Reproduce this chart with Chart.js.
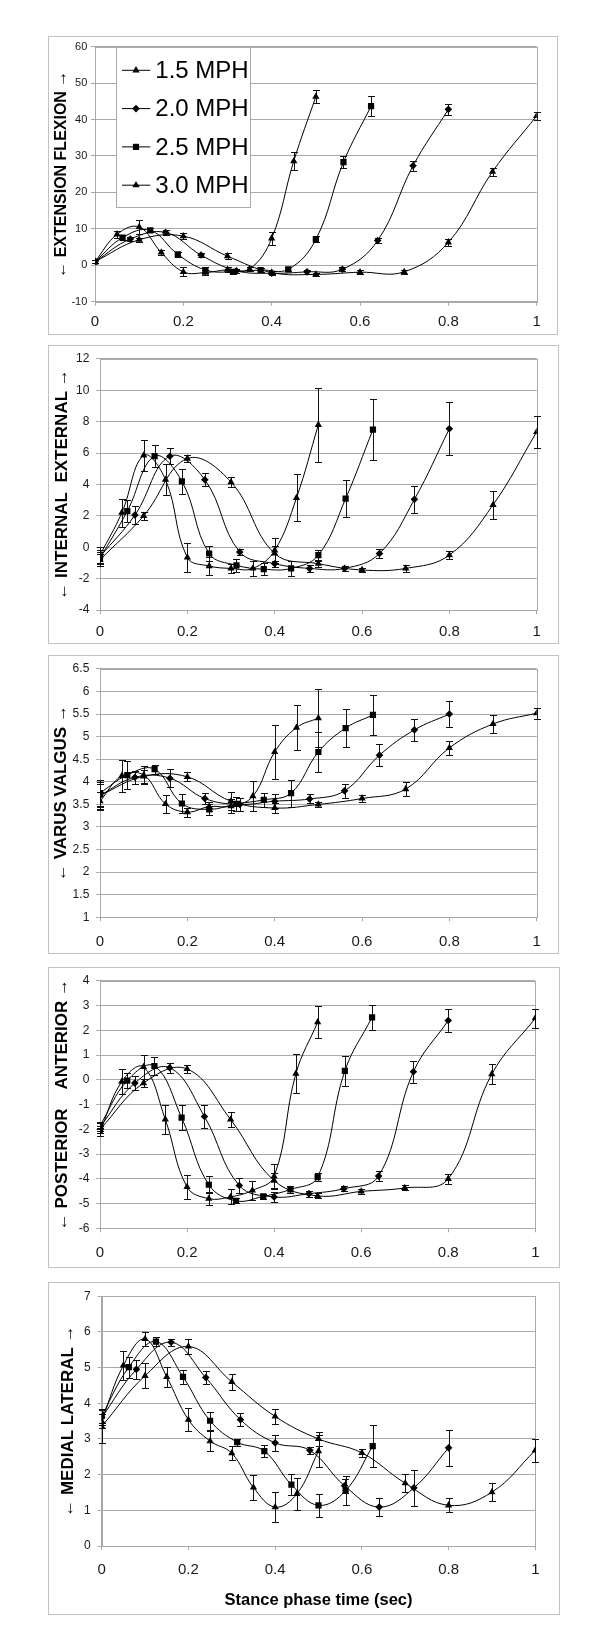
<!DOCTYPE html>
<html><head><meta charset="utf-8">
<script src="https://cdn.jsdelivr.net/npm/chart.js@4.4.0/dist/chart.umd.min.js"></script>
<style>
html,body{margin:0;padding:0;background:#fff;width:600px;height:1650px;overflow:hidden;}
canvas{position:absolute;}
</style></head><body>
<canvas id="c1"></canvas>
<canvas id="c2"></canvas>
<canvas id="c3"></canvas>
<canvas id="c4"></canvas>
<canvas id="c5"></canvas>
<script>
// ---- categories: sample times (sec) of each walking speed ----
const t15 = [0, 0.1, 0.2, 0.3, 0.4, 0.5, 0.6, 0.7, 0.8, 0.9, 1.0];
const t20 = [0, 0.08, 0.16, 0.24, 0.32, 0.40, 0.48, 0.56, 0.64, 0.72, 0.80];
const t25 = [0, 0.0625, 0.125, 0.1875, 0.25, 0.3125, 0.375, 0.4375, 0.5, 0.5625, 0.625];
const t30 = [0, 0.05, 0.1, 0.15, 0.2, 0.25, 0.3, 0.35, 0.4, 0.45, 0.5];
const seriesNames = ['1.5 MPH', '2.0 MPH', '2.5 MPH', '3.0 MPH'];
const xTickLabels = ['0', '0.2', '0.4', '0.6', '0.8', '1'];

// ---- panel 1: extension / flexion ----
const flex15 = [1, 7, 8, 2.5, -2, -2.5, -1.9, -1.8, 6.3, 25.7, 41];
const flex15Err = [0.5, 0.6, 0.8, 0.8, 0.5, 0.5, 0.5, 0.6, 1.0, 1.1, 1.0];
const flex20 = [1, 7.2, 9, 2.8, -1.5, -2.2, -1.8, -1.1, 6.8, 27.3, 42.8];
const flex20Err = [0.5, 0.6, 0.6, 0.6, 0.5, 0.5, 0.5, 0.5, 0.8, 1.3, 1.6];
const flex25 = [1, 7.6, 9.6, 3, -1.3, -1.8, -1.3, -1.1, 7.1, 28.3, 43.7];
const flex25Err = [0.5, 0.6, 0.6, 0.6, 0.8, 0.6, 0.5, 0.5, 0.8, 1.7, 2.75];
const flex30 = [1, 8.5, 10.5, 3.5, -1.8, -2, -1.2, -1, 7.4, 28.6, 46.3];
const flex30Err = [0.5, 1.0, 2.0, 0.8, 1.2, 0.8, 0.6, 0.6, 1.7, 2.5, 1.8];
const flexTicks = ['-10', '0', '10', '20', '30', '40', '50', '60'];

// ---- panel 2: internal / external ----
const int15 = [-0.8, 2.0, 5.65, 4.15, -0.4, -1.05, -1.45, -1.35, -0.5, 2.7, 7.35];
const int15Err = [0.4, 0.25, 0.25, 0.3, 0.5, 0.2, 0.15, 0.2, 0.25, 0.9, 1.0];
const int20 = [-0.6, 2.05, 5.8, 4.3, -0.3, -1.05, -1.35, -1.35, -0.4, 3.05, 7.55];
const int20Err = [0.4, 0.6, 0.5, 0.4, 0.2, 0.2, 0.2, 0.15, 0.3, 0.85, 1.7];
const int25 = [-0.7, 2.3, 5.8, 4.2, -0.4, -1.15, -1.4, -1.35, -0.5, 3.1, 7.5];
const int25Err = [0.4, 0.7, 0.7, 0.8, 0.5, 0.4, 0.4, 0.5, 0.3, 1.2, 1.95];
const int30 = [-0.5, 2.2, 5.85, 4.3, -0.65, -1.2, -1.35, -1.35, -0.2, 3.15, 7.8];
const int30Err = [0.5, 0.9, 1.0, 1.0, 0.9, 0.6, 0.3, 0.5, 0.8, 1.5, 2.35];
const intTicks = ['-4', '-2', '0', '2', '4', '6', '8', '10', '12'];

// ---- panel 3: varus / valgus ----
const var15 = [3.7, 4.12, 4.11, 3.57, 3.42, 3.5, 3.63, 3.84, 4.75, 5.28, 5.52];
const var15Err = [0.3, 0.15, 0.1, 0.2, 0.1, 0.05, 0.08, 0.15, 0.15, 0.2, 0.12];
const var20 = [3.7, 4.1, 4.08, 3.63, 3.5, 3.57, 3.62, 3.8, 4.59, 5.15, 5.5];
const var20Err = [0.25, 0.15, 0.2, 0.12, 0.15, 0.15, 0.1, 0.15, 0.25, 0.25, 0.28];
const var25 = [3.75, 4.15, 4.28, 3.52, 3.39, 3.51, 3.6, 3.75, 4.66, 5.19, 5.48];
const var25Err = [0.28, 0.3, 0.1, 0.22, 0.12, 0.15, 0.15, 0.3, 0.45, 0.43, 0.45];
const var30 = [3.57, 4.13, 4.15, 3.51, 3.33, 3.45, 3.46, 3.68, 4.66, 5.2, 5.41];
const var30Err = [0.2, 0.36, 0.2, 0.2, 0.1, 0.1, 0.15, 0.33, 0.6, 0.5, 0.65];
const varTicks = ['1', '1.5', '2', '2.5', '3', '3.5', '4', '4.5', '5', '5.5', '6', '6.5'];

// ---- panel 4: posterior / anterior ----
const ant15 = [-2.0, -0.13, 0.44, -1.6, -4.07, -4.69, -4.51, -4.37, -4.0, 0.23, 2.49];
const ant15Err = [0.15, 0.15, 0.15, 0.3, 0.3, 0.1, 0.1, 0.1, 0.2, 0.4, 0.38];
const ant20 = [-1.9, -0.13, 0.49, -1.48, -4.27, -4.73, -4.6, -4.4, -3.89, 0.33, 2.4];
const ant20Err = [0.15, 0.3, 0.2, 0.45, 0.3, 0.2, 0.12, 0.1, 0.2, 0.45, 0.45];
const ant25 = [-1.85, -0.03, 0.56, -1.53, -4.24, -4.89, -4.71, -4.43, -3.93, 0.36, 2.53];
const ant25Err = [0.15, 0.3, 0.35, 0.5, 0.35, 0.1, 0.1, 0.15, 0.15, 0.6, 0.5];
const ant30 = [-2.1, -0.07, 0.52, -1.6, -4.33, -4.8, -4.73, -4.47, -3.9, 0.25, 2.33];
const ant30Err = [0.15, 0.5, 0.5, 0.6, 0.5, 0.25, 0.3, 0.4, 0.5, 0.78, 0.65];
const antTicks = ['-6', '-5', '-4', '-3', '-2', '-1', '0', '1', '2', '3', '4'];

// ---- panel 5: medial / lateral ----
const lat15 = [3.35, 4.77, 5.59, 4.6, 3.63, 3.0, 2.61, 1.76, 1.14, 1.51, 2.68];
const lat15Err = [0.45, 0.35, 0.2, 0.22, 0.2, 0.2, 0.12, 0.25, 0.2, 0.25, 0.32];
const lat20 = [3.6, 4.95, 5.71, 4.72, 3.54, 2.89, 2.68, 1.69, 1.09, 1.63, 2.75];
const lat20Err = [0.2, 0.27, 0.1, 0.17, 0.18, 0.23, 0.1, 0.2, 0.25, 0.5, 0.5];
const lat25 = [3.65, 5.01, 5.73, 4.74, 3.51, 2.91, 2.66, 1.72, 1.14, 1.55, 2.8];
const lat25Err = [0.2, 0.3, 0.12, 0.2, 0.25, 0.1, 0.17, 0.3, 0.32, 0.4, 0.6];
const lat30 = [3.5, 5.06, 5.8, 4.74, 3.54, 2.94, 2.6, 1.64, 1.09, 1.46, 2.66];
const lat30Err = [0.2, 0.4, 0.2, 0.28, 0.32, 0.28, 0.2, 0.35, 0.42, 0.45, 0.45];
const latTicks = ['0', '1', '2', '3', '4', '5', '6', '7'];

// ---- styling ----
const FONT = "'Liberation Sans', Arial, sans-serif";
const GRID = '#a9a9a9';
const BOX = '#c2c2c2';
const times = [t15, t20, t25, t30];
const styles = ['triangle', 'rectRot', 'rect', 'triangle'];
const radii = [4.2, 3.8, 4.4, 4.2];

const framePlugin = {
  id: 'frame',
  beforeDraw(chart) {
    const c = chart.ctx;
    c.save();
    c.fillStyle = '#fff';
    c.fillRect(0, 0, chart.width, chart.height);
    c.strokeStyle = BOX; c.lineWidth = 1;
    c.strokeRect(0.5, 0.5, chart.width - 1, chart.height - 1);
    c.restore();
  },
  beforeDatasetsDraw(chart) {
    const a = chart.chartArea, c = chart.ctx;
    c.save();
    c.strokeStyle = GRID; c.lineWidth = 1;
    c.strokeRect(Math.round(a.left) + 0.5, Math.round(a.top) + 0.5,
                 Math.round(a.right) - Math.round(a.left), Math.round(a.bottom) - Math.round(a.top));
    c.restore();
  }
};

const errorBarPlugin = {
  id: 'errorBars',
  beforeDatasetsDraw(chart) {
    const c = chart.ctx, xs = chart.scales.x, ys = chart.scales.y;
    c.save();
    c.strokeStyle = '#111'; c.lineWidth = 1;
    chart.data.datasets.forEach(ds => {
      ds.data.forEach((p, j) => {
        const e = ds.errors[j];
        const px = Math.round(xs.getPixelForValue(p.x)) + 0.5;
        const y1 = Math.round(ys.getPixelForValue(p.y + e)) + 0.5;
        const y2 = Math.round(ys.getPixelForValue(p.y - e)) + 0.5;
        c.beginPath();
        c.moveTo(px, y1); c.lineTo(px, y2);
        c.moveTo(px - 3.5, y1); c.lineTo(px + 3.5, y1);
        c.moveTo(px - 3.5, y2); c.lineTo(px + 3.5, y2);
        c.stroke();
      });
    });
    c.restore();
  }
};

const boxLegendPlugin = {
  id: 'boxLegend',
  afterDatasetsDraw(chart, args, opts) {
    if (!opts.show) return;
    const a = chart.chartArea, c = chart.ctx;
    const L = Math.round(a.left + 20.7), T = Math.round(a.top), W = 134, H = 160;
    c.save();
    c.fillStyle = '#fff';
    c.fillRect(L, T, W, H);
    c.strokeStyle = GRID; c.lineWidth = 1;
    c.strokeRect(L + 0.5, T + 0.5, W, H);
    chart.data.datasets.forEach((ds, i) => {
      const cy = T + 23.3 + i * 38.3;
      c.strokeStyle = '#000'; c.lineWidth = 1;
      c.beginPath(); c.moveTo(L + 6, cy); c.lineTo(L + 34.3, cy); c.stroke();
      c.fillStyle = '#000';
      Chart.helpers.drawPoint(c, {pointStyle: ds.pointStyle, radius: ds.pointRadius, rotation: 0, borderWidth: 0}, L + 20, cy);
      c.fillStyle = '#000';
      c.font = '24px ' + FONT;
      c.textBaseline = 'middle'; c.textAlign = 'left';
      c.fillText(ds.label, L + 39.3, cy + 1);
    });
    c.restore();
  }
};

function makeDatasets(vals, errs) {
  return vals.map((v, i) => ({
    label: seriesNames[i],
    data: times[i].map((t, j) => ({x: t, y: v[j]})),
    errors: errs[i],
    borderColor: '#000', borderWidth: 1, tension: 0.4, fill: false,
    pointStyle: styles[i], pointRadius: radii[i], pointHoverRadius: radii[i],
    pointBackgroundColor: '#000', pointBorderColor: '#000', pointBorderWidth: 0
  }));
}

function makePanel(id, g, y, vals, errs, extra) {
  const cv = document.getElementById(id);
  cv.width = g.w; cv.height = g.h;
  cv.style.left = g.left + 'px'; cv.style.top = g.top + 'px';
  cv.style.width = g.w + 'px'; cv.style.height = g.h + 'px';
  new Chart(cv, {
    type: 'line',
    data: {datasets: makeDatasets(vals, errs)},
    options: {
      responsive: false, animation: false, devicePixelRatio: 1,
      events: [],
      layout: {padding: {left: 0, top: g.aT, right: g.w - g.aR, bottom: 0}},
      plugins: {legend: {display: false}, tooltip: {enabled: false}, boxLegend: {show: !!extra.legend}},
      scales: {
        x: {
          type: 'linear', min: 0, max: 1,
          ticks: {stepSize: 0.2, autoSkip: false, maxRotation: 0, padding: g.xpad, color: '#1a1a1a',
                  font: {family: FONT, size: 15}, callback: (v, i) => xTickLabels[i]},
          grid: {display: true, drawOnChartArea: false, drawTicks: true, tickLength: 4, color: GRID},
          border: {display: true, color: GRID},
          title: extra.xTitle ? {display: true, text: extra.xTitle, color: '#000',
                 font: {family: FONT, size: 16.5, weight: 'bold'}, padding: {top: 0, bottom: 5.1}} : {display: false},
          afterFit: s => { s.height = g.h - g.aB; }
        },
        y: {
          type: 'linear', min: y.min, max: y.max,
          ticks: {stepSize: y.step, autoSkip: false, padding: g.ypad, color: '#1a1a1a',
                  font: {family: FONT, size: g.yfont}, callback: (v, i) => y.labels[i]},
          grid: {display: true, drawTicks: true, tickLength: 4, color: GRID},
          border: {display: true, color: GRID},
          title: {display: true, text: y.title, color: '#000',
                  font: {family: FONT, size: y.tsize, weight: 'bold'},
                  padding: {top: g.yt - y.tsize * 0.6, bottom: 0}},
          afterFit: s => { s.width = g.aL; }
        }
      }
    },
    plugins: [framePlugin, errorBarPlugin, boxLegendPlugin]
  });
}

makePanel('c1',
  {left: 48, top: 36, w: 510, h: 299, aL: 47, aT: 10.7, aR: 488.7, aB: 265.7, xpad: 7.6, ypad: 3.7, yt: 14, yfont: 11},
  {min: -10, max: 60, step: 10, labels: flexTicks, title: '\u2190 EXTENSION FLEXION \u2192', tsize: 16},
  [flex15, flex20, flex25, flex30], [flex15Err, flex20Err, flex25Err, flex30Err], {legend: true});

makePanel('c2',
  {left: 48, top: 345, w: 511, h: 299, aL: 52, aT: 11.7, aR: 488.7, aB: 265, xpad: 8.7, ypad: 6.7, yt: 14.3, yfont: 12},
  {min: -4, max: 12, step: 2, labels: intTicks, title: '\u2190 INTERNAL  EXTERNAL \u2192', tsize: 17},
  [int15, int20, int25, int30], [int15Err, int20Err, int25Err, int30Err], {});

makePanel('c3',
  {left: 48, top: 655, w: 511, h: 299, aL: 52, aT: 11, aR: 488.7, aB: 262.3, xpad: 11.4, ypad: 6.7, yt: 13.7, yfont: 12},
  {min: 1, max: 6.5, step: 0.5, labels: varTicks, title: '\u2190 VARUS VALGUS \u2192', tsize: 17},
  [var15, var20, var25, var30], [var15Err, var20Err, var25Err, var30Err], {});

makePanel('c4',
  {left: 48, top: 967, w: 512, h: 301, aL: 52, aT: 11.3, aR: 487.3, aB: 261.3, xpad: 11.7, ypad: 6.7, yt: 14.3, yfont: 12},
  {min: -6, max: 4, step: 1, labels: antTicks, title: '\u2190 POSTERIOR    ANTERIOR \u2192', tsize: 17},
  [ant15, ant20, ant25, ant30], [ant15Err, ant20Err, ant25Err, ant30Err], {});

makePanel('c5',
  {left: 48, top: 1282, w: 512, h: 333, aL: 53.7, aT: 11.3, aR: 487.3, aB: 264, xpad: 11, ypad: 7, yt: 20.7, yfont: 12},
  {min: 0, max: 7, step: 1, labels: latTicks, title: '\u2190 MEDIAL LATERAL \u2192', tsize: 17},
  [lat15, lat20, lat25, lat30], [lat15Err, lat20Err, lat25Err, lat30Err], {xTitle: 'Stance phase time (sec)'});
</script>
</body></html>
